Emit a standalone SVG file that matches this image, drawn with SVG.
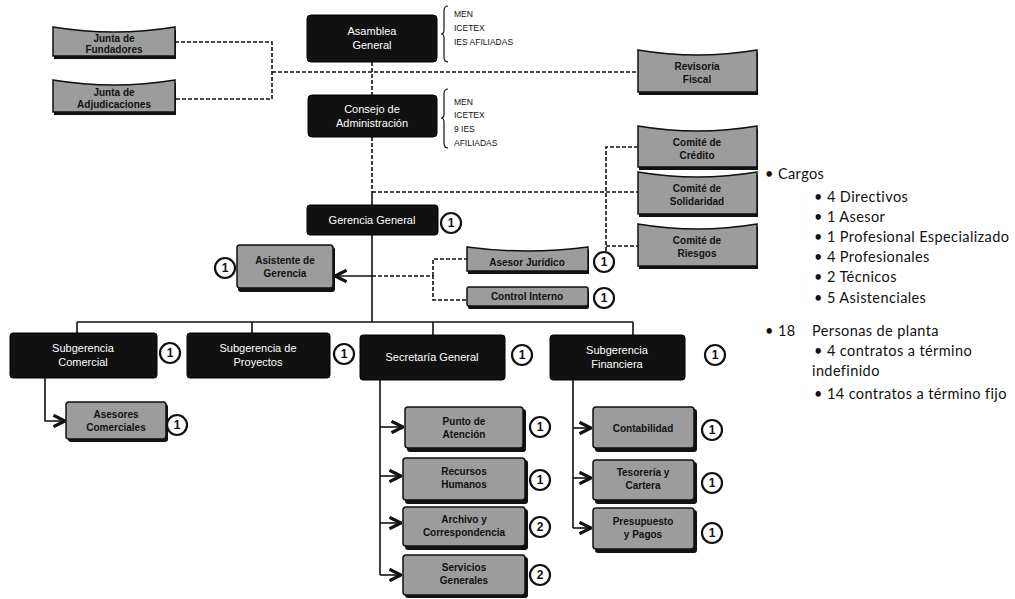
<svg xmlns="http://www.w3.org/2000/svg" width="1015" height="599" viewBox="0 0 1015 599">
<style>
.bk{fill:#111;stroke:#000;stroke-width:1}
.gr{fill:#9c9c9c;stroke:#111;stroke-width:1.5}
.sh{fill:#111}
.wt{font-family:"Liberation Sans",Arial,sans-serif;font-size:11px;fill:#fff;text-anchor:middle}
.dt{font-family:"Liberation Sans",Arial,sans-serif;font-size:10px;font-weight:bold;fill:#111;text-anchor:middle}
.sm{font-family:"Liberation Sans",Arial,sans-serif;font-size:8.5px;fill:#111}
.rt{font-family:Lato,"Liberation Sans",sans-serif;font-size:14.5px;letter-spacing:0.4px;fill:#111}
.bd circle{fill:#fff;stroke:#111;stroke-width:2.2}
.bd text{font-family:"Liberation Sans",Arial,sans-serif;font-size:12px;font-weight:bold;fill:#111;text-anchor:middle}
.sl{fill:none;stroke:#111;stroke-width:1.6}
.ds{fill:none;stroke:#111;stroke-width:1.6;stroke-dasharray:4 2}
.br{fill:none;stroke:#111;stroke-width:1.2}
</style>
<defs>
<marker id="ar" viewBox="0 0 10 10" refX="9" refY="5" markerWidth="9" markerHeight="9" orient="auto">
<path d="M1,1 L9,5 L1,9" fill="none" stroke="#111" stroke-width="2.2"/>
</marker>
</defs>
<rect width="1015" height="599" fill="#fff"/>

<g id="connectors">
<path class="ds" d="M175,42 H272 V99 H175"/>
<path class="ds" d="M272,72 H638"/>
<path class="ds" d="M372,62 V95"/>
<path class="ds" d="M372,137 V192"/>
<path class="sl" d="M372,192 V322"/>
<path class="ds" d="M372,192 H638"/>
<path class="ds" d="M638,147 H606 V262 M606,246 H638"/>
<path class="sl" d="M372,276 H335" marker-end="url(#ar)"/>
<path class="ds" d="M372,276 H433 V300 H467 M433,276 V259 H467"/>
<path class="sl" d="M77,322 H633 M77,322 V333 M252,322 V333 M433,322 V335 M633,322 V335"/>
<path class="sl" d="M45,378 V421 H65" marker-end="url(#ar)"/>
<path class="sl" d="M380,380 V575"/>
<path class="sl" d="M380,427 H403" marker-end="url(#ar)"/>
<path class="sl" d="M380,476 H401" marker-end="url(#ar)"/>
<path class="sl" d="M380,523 H401" marker-end="url(#ar)"/>
<path class="sl" d="M380,575 H401" marker-end="url(#ar)"/>
<path class="sl" d="M573,380 V528"/>
<path class="sl" d="M573,428 H591" marker-end="url(#ar)"/>
<path class="sl" d="M573,478 H591" marker-end="url(#ar)"/>
<path class="sl" d="M573,528 H591" marker-end="url(#ar)"/>
</g>

<g id="junta1">
<path class="sh" d="M53,27 Q114,37 175,27 L175,56 L53,56 Z" transform="translate(1,3)"/>
<path class="gr" d="M53,27 Q114,37 175,27 L175,56 L53,56 Z"/>
<text class="dt" x="114" y="42">Junta de</text>
<text class="dt" x="114" y="53">Fundadores</text>
</g>
<g id="junta2">
<path class="sh" d="M53,80 Q114,90 175,80 L175,112 L53,112 Z" transform="translate(1,3)"/>
<path class="gr" d="M53,80 Q114,90 175,80 L175,112 L53,112 Z"/>
<text class="dt" x="114" y="96">Junta de</text>
<text class="dt" x="114" y="108">Adjudicaciones</text>
</g>

<g id="asamblea">
<rect class="bk" x="307" y="15" width="130" height="47" rx="4"/>
<text class="wt" x="372" y="35">Asamblea</text>
<text class="wt" x="372" y="49">General</text>
<path class="br" d="M448,6 Q444,6 444,11 V30 Q444,34 441,34 Q444,34 444,38 V57 Q444,62 448,62"/>
<text class="sm" x="454" y="17">MEN</text>
<text class="sm" x="454" y="31">ICETEX</text>
<text class="sm" x="454" y="45">IES AFILIADAS</text>
</g>

<g id="consejo">
<rect class="bk" x="308" y="95" width="129" height="42" rx="4"/>
<text class="wt" x="372" y="113">Consejo de</text>
<text class="wt" x="372" y="127">Administración</text>
<path class="br" d="M448,89 Q444,89 444,94 V114 Q444,118 441,118 Q444,118 444,122 V143 Q444,148 448,148"/>
<text class="sm" x="454" y="105">MEN</text>
<text class="sm" x="454" y="118">ICETEX</text>
<text class="sm" x="454" y="132">9 IES</text>
<text class="sm" x="454" y="146">AFILIADAS</text>
</g>

<g id="revisoria">
<path class="sh" d="M638,50 Q697,60 757,50 L757,92 L638,92 Z" transform="translate(1,3)"/>
<path class="gr" d="M638,50 Q697,60 757,50 L757,92 L638,92 Z"/>
<text class="dt" x="697" y="70">Revisoría</text>
<text class="dt" x="697" y="83">Fiscal</text>
</g>

<g id="comite1">
<path class="sh" d="M638,126 Q697,136 757,126 L757,167 L638,167 Z" transform="translate(1,3)"/>
<path class="gr" d="M638,126 Q697,136 757,126 L757,167 L638,167 Z"/>
<text class="dt" x="697" y="146">Comité de</text>
<text class="dt" x="697" y="159">Crédito</text>
</g>
<g id="comite2">
<path class="sh" d="M638,172 Q697,182 757,172 L757,214 L638,214 Z" transform="translate(1,3)"/>
<path class="gr" d="M638,172 Q697,182 757,172 L757,214 L638,214 Z"/>
<text class="dt" x="697" y="192">Comité de</text>
<text class="dt" x="697" y="205">Solidaridad</text>
</g>
<g id="comite3">
<path class="sh" d="M638,224 Q697,234 757,224 L757,266 L638,266 Z" transform="translate(1,3)"/>
<path class="gr" d="M638,224 Q697,234 757,224 L757,266 L638,266 Z"/>
<text class="dt" x="697" y="244">Comité de</text>
<text class="dt" x="697" y="257">Riesgos</text>
</g>

<g id="gerencia">
<rect class="bk" x="307" y="205" width="131" height="30" rx="3"/>
<text class="wt" x="372" y="224">Gerencia General</text>
<g class="bd"><circle cx="451" cy="223" r="10"/><text x="451" y="227">1</text></g>
</g>

<g id="asistente">
<rect class="sh" x="238" y="247" width="97" height="45" rx="3"/>
<rect class="gr" x="237" y="245" width="96" height="43" rx="3"/>
<text class="dt" x="285" y="264">Asistente de</text>
<text class="dt" x="285" y="277">Gerencia</text>
<g class="bd"><circle cx="225" cy="268" r="10"/><text x="225" y="272">1</text></g>
</g>

<g id="juridico">
<path class="sh" d="M467,247 Q527,255 588,247 L588,271 L467,271 Z" transform="translate(1,3)"/>
<path class="gr" d="M467,247 Q527,255 588,247 L588,271 L467,271 Z"/>
<text class="dt" x="527" y="266">Asesor Jurídico</text>
<g class="bd"><circle cx="604" cy="262" r="10"/><text x="604" y="266">1</text></g>
</g>

<g id="control">
<rect class="sh" x="468" y="289" width="121" height="20" rx="2"/>
<rect class="gr" x="467" y="287" width="121" height="19" rx="2"/>
<text class="dt" x="527" y="300">Control Interno</text>
<g class="bd"><circle cx="604" cy="298" r="10"/><text x="604" y="302">1</text></g>
</g>

<g id="sub-comercial">
<rect class="bk" x="10" y="333" width="147" height="45" rx="3"/>
<text class="wt" x="83" y="352">Subgerencia</text>
<text class="wt" x="83" y="366">Comercial</text>
<g class="bd"><circle cx="170" cy="353" r="10"/><text x="170" y="357">1</text></g>
</g>
<g id="sub-proyectos">
<rect class="bk" x="187" y="333" width="143" height="45" rx="3"/>
<text class="wt" x="258" y="352">Subgerencia de</text>
<text class="wt" x="258" y="366">Proyectos</text>
<g class="bd"><circle cx="344" cy="354" r="10"/><text x="344" y="358">1</text></g>
</g>
<g id="secretaria">
<rect class="bk" x="360" y="335" width="145" height="45" rx="3"/>
<text class="wt" x="432" y="361">Secretaría General</text>
<g class="bd"><circle cx="522" cy="355" r="10"/><text x="522" y="359">1</text></g>
</g>
<g id="sub-financiera">
<rect class="bk" x="550" y="335" width="135" height="45" rx="3"/>
<text class="wt" x="617" y="354">Subgerencia</text>
<text class="wt" x="617" y="368">Financiera</text>
<g class="bd"><circle cx="715" cy="355" r="10"/><text x="715" y="359">1</text></g>
</g>

<g id="asesores-comerciales">
<rect class="sh" x="68" y="404" width="100" height="38" rx="3"/>
<rect class="gr" x="66" y="402" width="100" height="37" rx="3"/>
<text class="dt" x="116" y="418">Asesores</text>
<text class="dt" x="116" y="431">Comerciales</text>
<g class="bd"><circle cx="177" cy="425" r="10"/><text x="177" y="429">1</text></g>
</g>

<g id="punto-atencion">
<rect class="sh" x="407" y="409" width="119" height="43" rx="3"/>
<rect class="gr" x="405" y="407" width="118" height="41" rx="3"/>
<text class="dt" x="464" y="425">Punto de</text>
<text class="dt" x="464" y="438">Atención</text>
<g class="bd"><circle cx="540" cy="427" r="10"/><text x="540" y="431">1</text></g>
</g>
<g id="recursos-humanos">
<rect class="sh" x="405" y="460" width="123" height="44" rx="3"/>
<rect class="gr" x="403" y="458" width="122" height="42" rx="3"/>
<text class="dt" x="464" y="475">Recursos</text>
<text class="dt" x="464" y="488">Humanos</text>
<g class="bd"><circle cx="540" cy="480" r="10"/><text x="540" y="484">1</text></g>
</g>
<g id="archivo">
<rect class="sh" x="405" y="509" width="123" height="41" rx="3"/>
<rect class="gr" x="403" y="507" width="122" height="39" rx="3"/>
<text class="dt" x="464" y="523">Archivo y</text>
<text class="dt" x="464" y="536">Correspondencia</text>
<g class="bd"><circle cx="540" cy="527" r="10"/><text x="540" y="531">2</text></g>
</g>
<g id="servicios-generales">
<rect class="sh" x="405" y="557" width="123" height="41" rx="3"/>
<rect class="gr" x="403" y="555" width="122" height="40" rx="3"/>
<text class="dt" x="464" y="571">Servicios</text>
<text class="dt" x="464" y="584">Generales</text>
<g class="bd"><circle cx="540" cy="575" r="10"/><text x="540" y="579">2</text></g>
</g>

<g id="contabilidad">
<rect class="sh" x="595" y="409" width="102" height="43" rx="3"/>
<rect class="gr" x="593" y="407" width="101" height="41" rx="3"/>
<text class="dt" x="643" y="432">Contabilidad</text>
<g class="bd"><circle cx="712" cy="430" r="10"/><text x="712" y="434">1</text></g>
</g>
<g id="tesoreria">
<rect class="sh" x="595" y="462" width="102" height="42" rx="3"/>
<rect class="gr" x="593" y="460" width="101" height="40" rx="3"/>
<text class="dt" x="643" y="476">Tesorería y</text>
<text class="dt" x="643" y="489">Cartera</text>
<g class="bd"><circle cx="712" cy="483" r="10"/><text x="712" y="487">1</text></g>
</g>
<g id="presupuesto">
<rect class="sh" x="595" y="510" width="102" height="43" rx="3"/>
<rect class="gr" x="593" y="508" width="101" height="41" rx="3"/>
<text class="dt" x="643" y="525">Presupuesto</text>
<text class="dt" x="643" y="538">y Pagos</text>
<g class="bd"><circle cx="712" cy="533" r="10"/><text x="712" y="537">1</text></g>
</g>

<g id="resumen" class="rt">
<text x="765" y="179">• Cargos</text>
<text x="814" y="202">• 4  Directivos</text>
<text x="814" y="222">• 1  Asesor</text>
<text x="814" y="242">• 1 Profesional Especializado</text>
<text x="814" y="262">• 4 Profesionales</text>
<text x="814" y="282">• 2 Técnicos</text>
<text x="814" y="303">• 5  Asistenciales</text>
<text x="765" y="336">• 18<tspan x="812">Personas de planta</tspan></text>
<text x="814" y="356">• 4 contratos a término</text>
<text x="812" y="376">indefinido</text>
<text x="814" y="399">• 14 contratos a término fijo</text>
</g>
</svg>
